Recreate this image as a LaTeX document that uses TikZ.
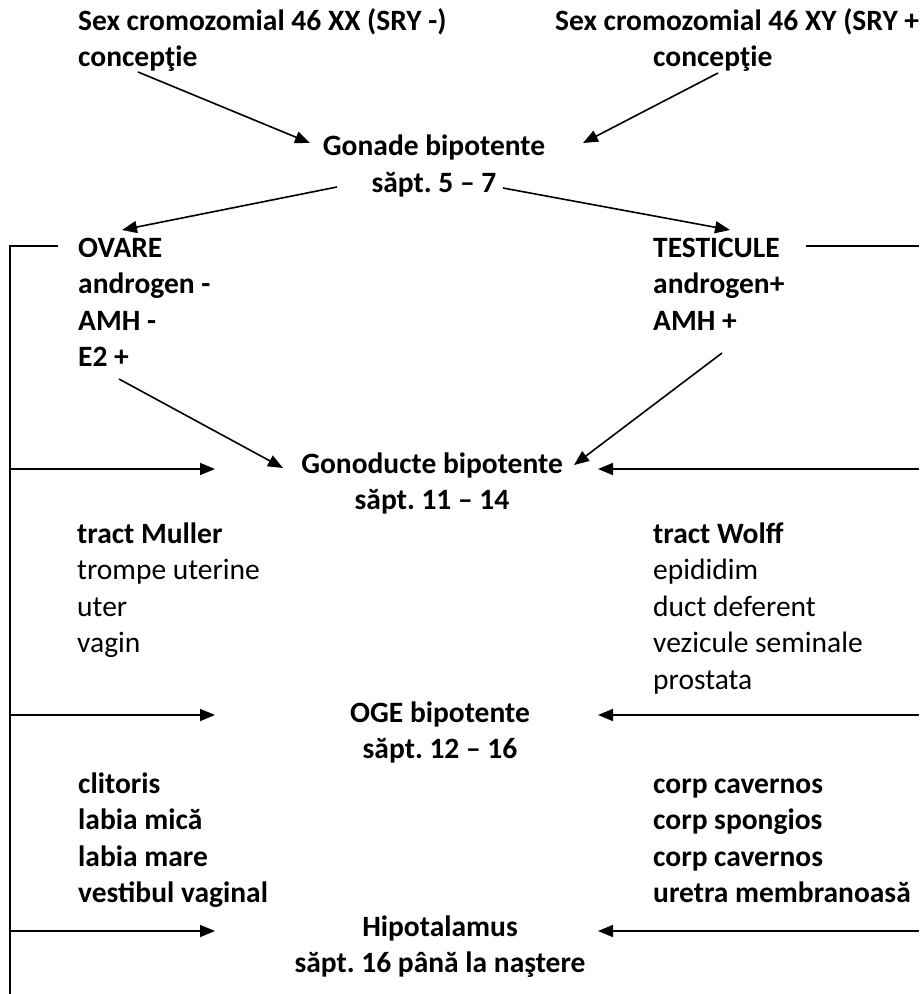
\documentclass[tikz,border=0pt]{standalone}
\usepackage{fontspec}
\setmainfont{Carlito}
\usetikzlibrary{arrows.meta}

\begin{document}
\frenchspacing
\begin{tikzpicture}[x=1pt,y=-1pt,
  txt/.style={inner sep=0pt,font=\fontsize{29.5}{36.5}\selectfont\bfseries},
  lst/.style={txt,align=left,anchor=base west},
  mid/.style={txt,align=center,anchor=base},
  arr/.style={line width=1.6pt,-{Triangle[length=15pt,width=12pt]}},
  lin/.style={line width=1.3pt}]
\useasboundingbox (0,0) rectangle (919,994);

% texts (placed at the baseline of their last line)
\node[lst] (xx) at (78,66.5) {Sex cromozomial 46 XX (SRY -)\\concepţie};
\node[lst] (xy) at (555,30) {Sex cromozomial 46 XY (SRY +};
\node[lst] (xyt) at (653,66.5) {concepţie};
\node[mid] (gonade) at (434,192) {Gonade bipotente\\săpt. 5 – 7};
\node[lst] (ovare) at (78,366.5) {OVARE\\androgen -\\AMH -\\E2 +};
\node[lst] (testic) at (653,330) {TESTICULE\\androgen+\\AMH +};
\node[mid] (gonod) at (432,509.5) {Gonoducte bipotente\\săpt. 11 – 14};
\node[lst] (muller) at (77,652.5) {tract Muller\\\textmd{trompe uterine}\\\textmd{uter}\\\textmd{vagin}};
\node[lst] (wolff) at (653,689) {tract Wolff\\\textmd{epididim}\\\textmd{duct deferent}\\\textmd{vezicule seminale}\\\textmd{prostata}};
\node[mid] (oge) at (440,758.5) {OGE bipotente\\săpt. 12 – 16};
\node[lst] (fem) at (78,902.5) {clitoris\\labia mică\\labia mare\\vestibul vaginal};
\node[lst] (masc) at (653,902.5) {corp cavernos\\corp spongios\\corp cavernos\\uretra membranoasă};
\node[mid] (hipo) at (440,972.5) {Hipotalamus\\săpt. 16 până la naştere};

% arrow ends
\coordinate (xxend) at (138,72);
\coordinate (xyend) at (718,73);
\coordinate (gonin1) at (310,143);
\coordinate (gonin2) at (583,143);
\coordinate (gonout1) at (337,187);
\coordinate (gonout2) at (503,188);
\coordinate (ovin) at (122,230);
\coordinate (tein) at (730,230);
\coordinate (ovout) at (119,379);
\coordinate (teout) at (722,353);
\coordinate (duct1) at (283,468);
\coordinate (duct2) at (574,465);
\coordinate (railtop) at (10,246);
\coordinate (railbot) at (10,994);

\draw[arr] (xxend) -- (gonin1);
\draw[arr] (xyend) -- (gonin2);
\draw[arr] (gonout1) -- (ovin);
\draw[arr] (gonout2) -- (tein);
\draw[arr] (ovout) -- (duct1);
\draw[arr] (teout) -- (duct2);

% side rails
\draw[lin] (58,246) -- (railtop) -- (railbot);
\draw[lin] (806,246) -- (919,246);
\foreach \y in {469,715,931} {
  \draw[arr] (10,\y) -- (215,\y);
  \draw[arr] (919,\y) -- (598,\y);
}
\end{tikzpicture}
\end{document}
